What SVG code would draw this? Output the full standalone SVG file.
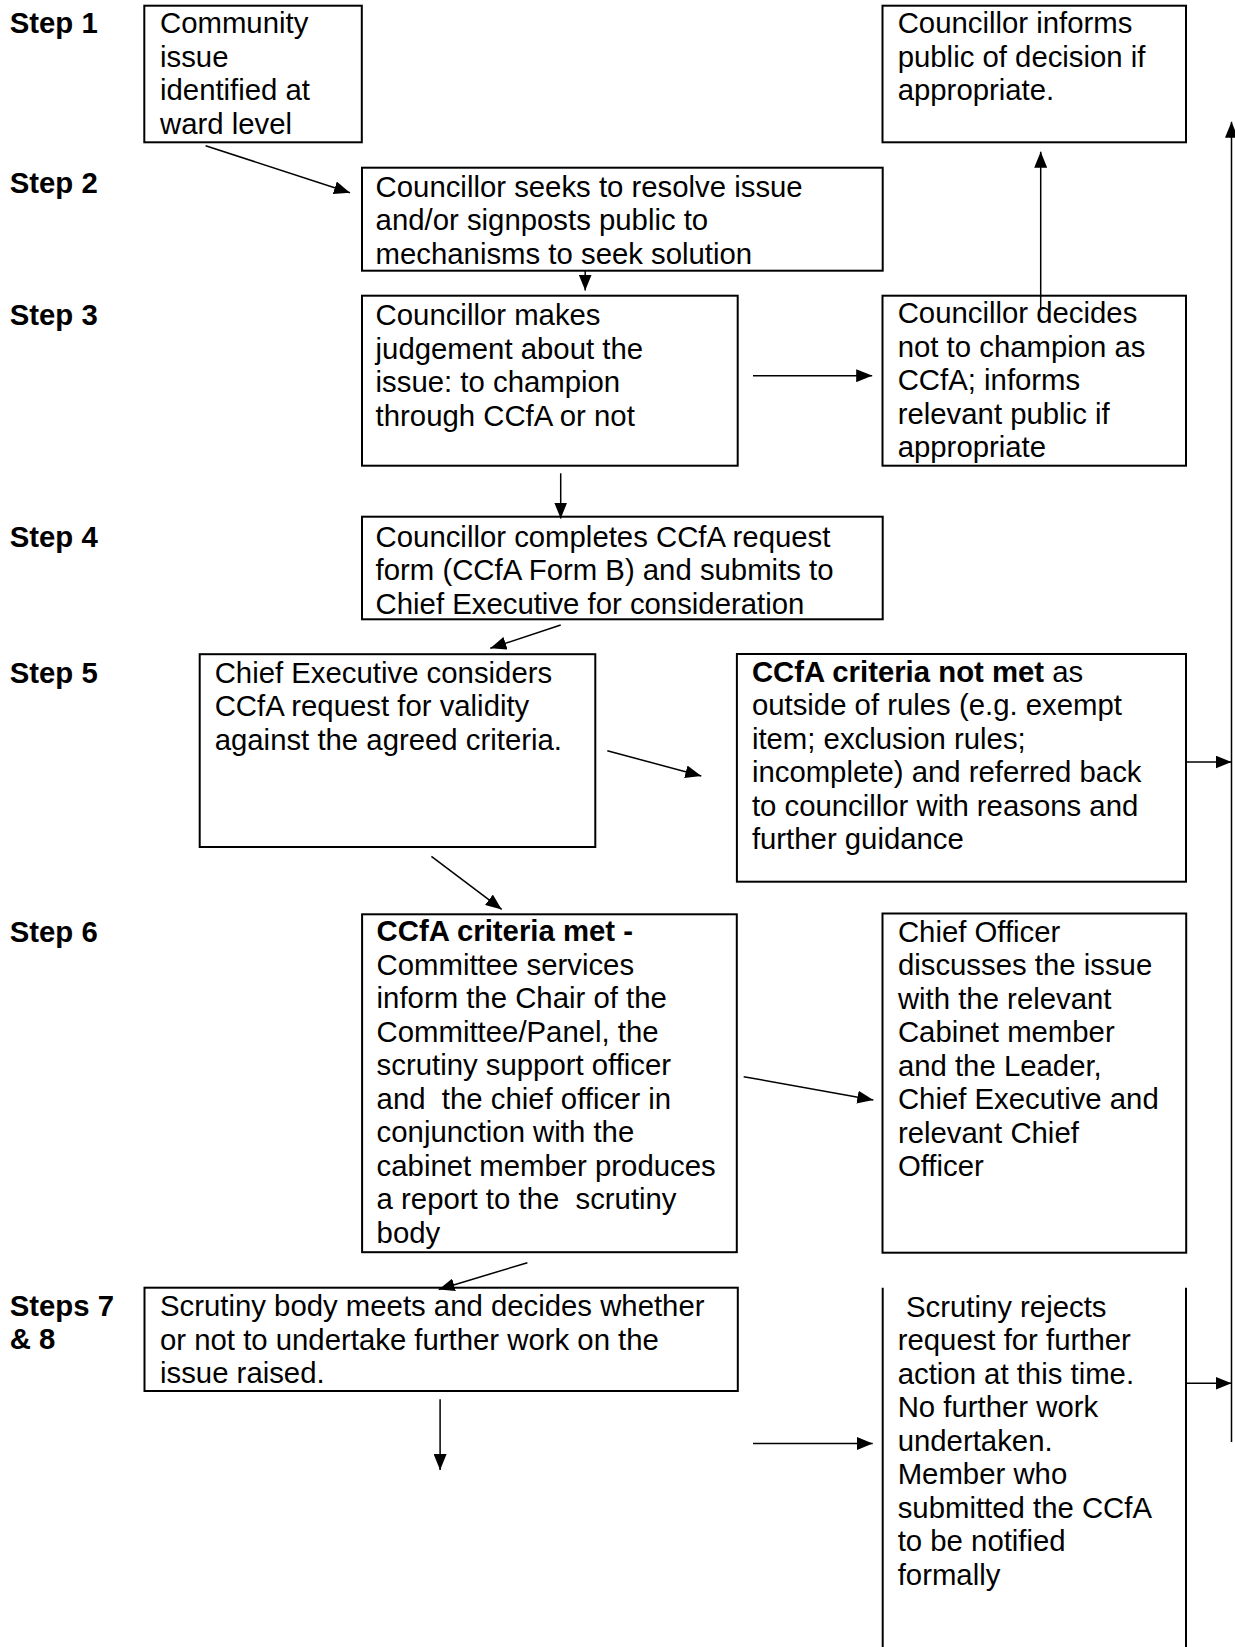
<svg xmlns="http://www.w3.org/2000/svg" width="1235" height="1647" viewBox="0 0 1235 1647">
<style>
.box{fill:none;stroke:#000;stroke-width:2}
.t{font-family:"Liberation Sans",Arial,sans-serif;font-size:29.33px;fill:#000}
.b{font-weight:bold}
.c{stroke:#000;stroke-width:1.5;fill:none;marker-end:url(#ah)}
.side{stroke:#000;stroke-width:2}
</style>
<defs>
<marker id="ah" markerUnits="userSpaceOnUse" markerWidth="16" markerHeight="13" refX="16" refY="6.5" orient="auto">
<path d="M0,0 L16,6.5 L0,13 Z" fill="#000"/>
</marker>
</defs>
<rect x="0" y="0" width="1235" height="1647" fill="#fff"/>

<g id="step-labels" class="t b">
<text x="9.7" y="33.3">Step 1</text>
<text x="9.7" y="193.3">Step 2</text>
<text x="9.7" y="325">Step 3</text>
<text x="9.7" y="546.7">Step 4</text>
<text x="9.7" y="683">Step 5</text>
<text x="9.7" y="942">Step 6</text>
<text x="9.7" y="1316">Steps 7</text>
<text x="9.7" y="1349.3">&amp; 8</text>
</g>

<g id="n1">
<rect class="box" x="144.3" y="5.7" width="217.5" height="136.6"/>
<text class="t"><tspan x="160" y="33.3">Community</tspan><tspan x="160" y="66.8">issue</tspan><tspan x="160" y="100.3">identified at</tspan><tspan x="160" y="133.8">ward level</tspan></text>
</g>

<g id="n-informs">
<rect class="box" x="882.5" y="5.7" width="303.5" height="136.6"/>
<text class="t"><tspan x="897.7" y="33.3">Councillor informs</tspan><tspan x="897.7" y="66.8">public of decision if</tspan><tspan x="897.7" y="100.3">appropriate.</tspan></text>
</g>

<g id="n2">
<rect class="box" x="362" y="167.7" width="520.7" height="103"/>
<text class="t"><tspan x="375.6" y="196.7">Councillor seeks to resolve issue</tspan><tspan x="375.6" y="230.2">and/or signposts public to</tspan><tspan x="375.6" y="263.7">mechanisms to seek solution</tspan></text>
</g>

<g id="n3">
<rect class="box" x="362" y="295.7" width="375.7" height="170"/>
<text class="t"><tspan x="375.6" y="325">Councillor makes</tspan><tspan x="375.6" y="358.5">judgement about the</tspan><tspan x="375.6" y="392">issue: to champion</tspan><tspan x="375.6" y="425.5">through CCfA or not</tspan></text>
</g>

<g id="n-decides">
<rect class="box" x="882.5" y="295.7" width="303.5" height="170"/>
<text class="t"><tspan x="897.7" y="323.3">Councillor decides</tspan><tspan x="897.7" y="356.8">not to champion as</tspan><tspan x="897.7" y="390.3">CCfA; informs</tspan><tspan x="897.7" y="423.8">relevant public if</tspan><tspan x="897.7" y="457.3">appropriate</tspan></text>
</g>

<g id="n4">
<rect class="box" x="362" y="516.7" width="520.7" height="102.6"/>
<text class="t"><tspan x="375.6" y="546.7">Councillor completes CCfA request</tspan><tspan x="375.6" y="580.2">form (CCfA Form B) and submits to</tspan><tspan x="375.6" y="613.7">Chief Executive for consideration</tspan></text>
</g>

<g id="n5">
<rect class="box" x="199.7" y="654.2" width="395.6" height="192.8"/>
<text class="t"><tspan x="214.7" y="682.8">Chief Executive considers</tspan><tspan x="214.7" y="716.3">CCfA request for validity</tspan><tspan x="214.7" y="749.8">against the agreed criteria.</tspan></text>
</g>

<g id="n-notmet">
<rect class="box" x="736.9" y="654" width="449.1" height="227.7"/>
<text class="t"><tspan x="751.9" y="681.7"><tspan class="b">CCfA criteria not met</tspan> as</tspan><tspan x="751.9" y="715.2">outside of rules (e.g. exempt</tspan><tspan x="751.9" y="748.7">item; exclusion rules;</tspan><tspan x="751.9" y="782.2">incomplete) and referred back</tspan><tspan x="751.9" y="815.7">to councillor with reasons and</tspan><tspan x="751.9" y="849.2">further guidance</tspan></text>
</g>

<g id="n6">
<rect class="box" x="362.1" y="914.3" width="374.7" height="337.9"/>
<text class="t" xml:space="preserve"><tspan x="376.6" y="941.2" class="b">CCfA criteria met -</tspan><tspan x="376.6" y="974.7">Committee services</tspan><tspan x="376.6" y="1008.2">inform the Chair of the</tspan><tspan x="376.6" y="1041.7">Committee/Panel, the</tspan><tspan x="376.6" y="1075.2">scrutiny support officer</tspan><tspan x="376.6" y="1108.7">and  the chief officer in</tspan><tspan x="376.6" y="1142.2">conjunction with the</tspan><tspan x="376.6" y="1175.7">cabinet member produces</tspan><tspan x="376.6" y="1209.2">a report to the  scrutiny</tspan><tspan x="376.6" y="1242.7">body</tspan></text>
</g>

<g id="n-officer">
<rect class="box" x="882.5" y="913.5" width="303.7" height="339.2"/>
<text class="t"><tspan x="897.9" y="941.7">Chief Officer</tspan><tspan x="897.9" y="975.2">discusses the issue</tspan><tspan x="897.9" y="1008.7">with the relevant</tspan><tspan x="897.9" y="1042.2">Cabinet member</tspan><tspan x="897.9" y="1075.7">and the Leader,</tspan><tspan x="897.9" y="1109.2">Chief Executive and</tspan><tspan x="897.9" y="1142.7">relevant Chief</tspan><tspan x="897.9" y="1176.2">Officer</tspan></text>
</g>

<g id="n7">
<rect class="box" x="144.5" y="1287.7" width="593.3" height="103.3"/>
<text class="t"><tspan x="160" y="1316">Scrutiny body meets and decides whether</tspan><tspan x="160" y="1349.5">or not to undertake further work on the</tspan><tspan x="160" y="1383">issue raised.</tspan></text>
</g>

<g id="n-rejects">
<line class="side" x1="882.7" y1="1287.7" x2="882.7" y2="1647"/>
<line class="side" x1="1186" y1="1287.7" x2="1186" y2="1647"/>
<text class="t"><tspan x="906" y="1316.7">Scrutiny rejects</tspan><tspan x="897.7" y="1350.2">request for further</tspan><tspan x="897.7" y="1383.7">action at this time.</tspan><tspan x="897.7" y="1417.2">No further work</tspan><tspan x="897.7" y="1450.7">undertaken.</tspan><tspan x="897.7" y="1484.2">Member who</tspan><tspan x="897.7" y="1517.7">submitted the CCfA</tspan><tspan x="897.7" y="1551.2">to be notified</tspan><tspan x="897.7" y="1584.7">formally</tspan></text>
</g>

<g id="connectors">
<line class="c" x1="205.6" y1="145.7" x2="350" y2="192.7"/>
<line class="c" x1="585.2" y1="271" x2="585.2" y2="290.5"/>
<line class="c" x1="753" y1="375.7" x2="872.2" y2="375.7"/>
<line class="c" x1="1040.7" y1="308" x2="1040.7" y2="151.7"/>
<line class="c" x1="560.7" y1="473.3" x2="560.7" y2="518.5"/>
<line class="c" x1="560.7" y1="625" x2="490.3" y2="648.3"/>
<line class="c" x1="607.3" y1="750.7" x2="701.3" y2="776"/>
<line class="c" x1="1186" y1="762" x2="1231.5" y2="762"/>
<line class="c" x1="431.4" y1="856.3" x2="501.7" y2="909.4"/>
<line class="c" x1="743.7" y1="1076.7" x2="873.3" y2="1100"/>
<line class="c" x1="527.4" y1="1262.7" x2="438.7" y2="1289.5"/>
<line class="c" x1="440.1" y1="1399.3" x2="440.1" y2="1470"/>
<line class="c" x1="753" y1="1443.5" x2="872.7" y2="1443.5"/>
<line class="c" x1="1186" y1="1383.3" x2="1231.5" y2="1383.3"/>
<line class="c" x1="1231.5" y1="1442" x2="1231.5" y2="121.7"/>
</g>
</svg>
